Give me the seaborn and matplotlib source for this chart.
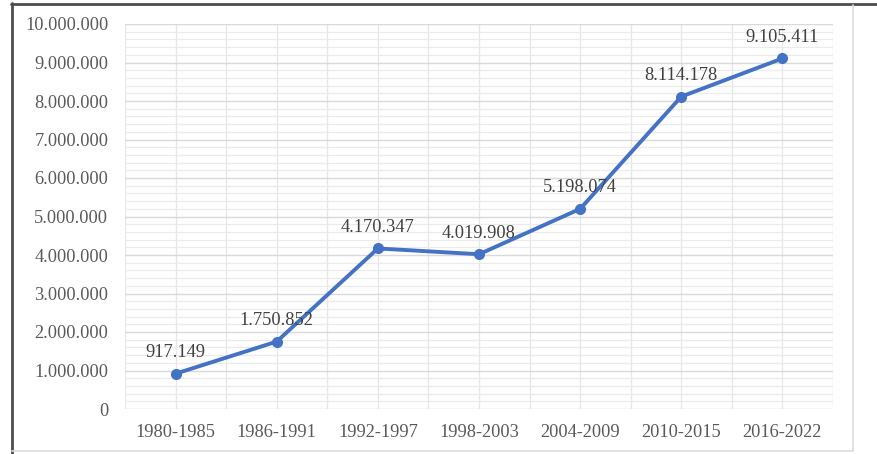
import matplotlib
matplotlib.use("Agg")
import matplotlib.pyplot as plt
import seaborn as sns
import pandas as pd
from matplotlib.lines import Line2D
from matplotlib.ticker import MultipleLocator, FuncFormatter

periods = ["1980-1985", "1986-1991", "1992-1997", "1998-2003", "2004-2009", "2010-2015", "2016-2022"]
values = [917149, 1750852, 4170347, 4019908, 5198074, 8114178, 9105411]
value_labels = ["917.149", "1.750.852", "4.170.347", "4.019.908", "5.198.074", "8.114.178", "9.105.411"]

sns.set_theme(style="white")
plt.rcParams['font.family'] = ['Liberation Serif', 'DejaVu Serif']

W, H = 878, 454
fig = plt.figure(figsize=(W / 100, H / 100), dpi=100)
ax = fig.add_axes([125 / W, 1 - 409 / H, (833 - 125) / W, (409 - 24) / H])

df = pd.DataFrame({"x": range(len(periods)), "y": values})
sns.lineplot(data=df, x="x", y="y", ax=ax, color="#4472C4", linewidth=2.8,
             marker="o", markersize=8, markeredgewidth=0, zorder=5)

ax.set_xlim(-0.5, len(periods) - 0.5)
ax.set_ylim(0, 10_000_000)
ax.yaxis.set_major_locator(MultipleLocator(1_000_000))
ax.yaxis.set_minor_locator(MultipleLocator(200_000))
ax.yaxis.set_major_formatter(FuncFormatter(lambda v, p: "0" if v == 0 else f"{int(v):,}".replace(",", ".")))
ax.set_xticks(range(len(periods)))
ax.set_xticklabels(periods)
ax.set_xticks([i - 0.5 for i in range(len(periods) + 1)], minor=True)

ax.grid(which="major", axis="y", color="#d9d9d9", linewidth=1.0)
ax.grid(which="minor", axis="y", color="#ebebeb", linewidth=0.9)
ax.grid(which="both", axis="x", color="#e6e6e6", linewidth=0.9)
ax.set_axisbelow(True)
for s in ax.spines.values():
    s.set_visible(False)
ax.tick_params(axis="both", which="both", length=0, labelsize=13.2, colors="#595959")
ax.tick_params(axis="x", pad=11)
ax.tick_params(axis="y", pad=12)
ax.set_xlabel("")
ax.set_ylabel("")

for i, (v, lab) in enumerate(zip(values, value_labels)):
    ax.annotate(lab, (i, v), xytext=(0, 9), textcoords="offset points",
                ha="center", va="bottom", fontsize=13.2, color="#404040", zorder=6)

# outer frame
fig.add_artist(Line2D([11.5 / W, 11.5 / W], [0, 1 - 3 / H], color="#4d4d4d", linewidth=2))
fig.add_artist(Line2D([11 / W, 1], [1 - 4 / H, 1 - 4 / H], color="#4d4d4d", linewidth=2))
fig.add_artist(Line2D([853 / W, 853 / W], [1 - 5 / H, 1 - 451 / H], color="#dcdcdc", linewidth=1.2))
fig.add_artist(Line2D([12 / W, 853 / W], [1 - 451 / H, 1 - 451 / H], color="#dcdcdc", linewidth=1.2))

fig.savefig("out.png", dpi=100)
